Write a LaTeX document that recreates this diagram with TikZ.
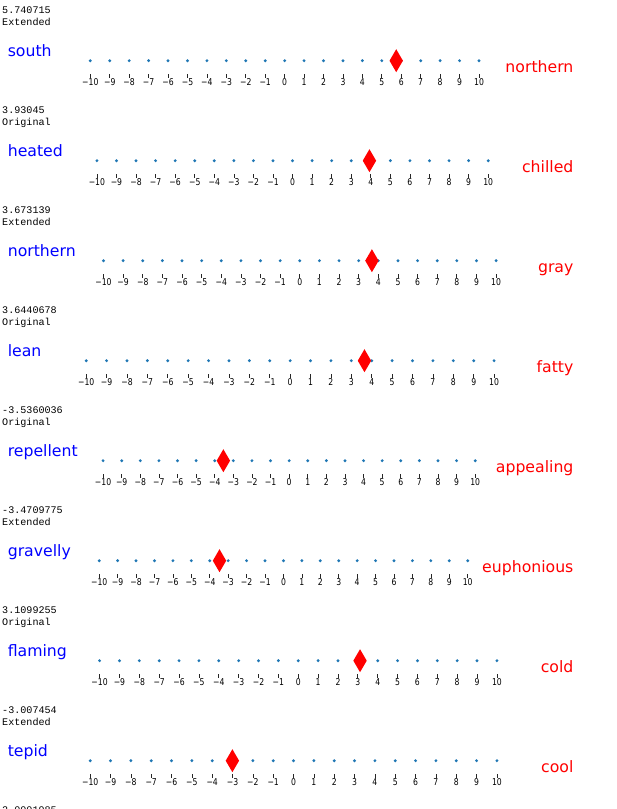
\documentclass[tikz,border=0pt]{standalone}
\usepackage{fontspec}
\setmainfont{DejaVu Sans}
\newfontfamily\tickfont[FakeStretch=0.82]{DejaVu Sans}
\newfontfamily\monofont{Liberation Mono}
\definecolor{dotblue}{HTML}{1F77B4}
\definecolor{wordblue}{HTML}{0000FF}
\definecolor{diared}{HTML}{FF0000}
\tikzset{
  hdr/.style={anchor=base west, inner sep=0pt, font=\monofont\fontsize{10.1}{12}\selectfont},
  leftw/.style={anchor=base west, inner sep=0pt, text=wordblue, font=\fontsize{15.7}{18}\selectfont},
  rightw/.style={anchor=base east, inner sep=0pt, text=diared, font=\fontsize{15.7}{18}\selectfont},
  ticklab/.style={anchor=base, inner sep=0pt, text=black, font=\tickfont\fontsize{9.4}{11}\selectfont},
  tickmark/.style={draw=black!85, line width=0.7pt},
}
\begin{document}
\begin{tikzpicture}[x=1pt,y=-1pt]
\useasboundingbox (0,0) rectangle (617,809);
\clip (0,0) rectangle (617,809);
\fill[white] (0,0) rectangle (617,809);
\foreach \i/\val/\typ/\lword/\rword/\xa/\xb in {
  0/5.740715/Extended/south/northern/90.3/479,
  1/3.93045/Original/heated/chilled/96.9/488.2,
  2/3.673139/Extended/northern/gray/103.5/496.1,
  3/3.6440678/Original/lean/fatty/86.2/494.1,
  4/-3.5360036/Original/repellent/appealing/103.1/475.2,
  5/-3.4709775/Extended/gravelly/euphonious/99.2/467.7,
  6/3.1099255/Original/flaming/cold/99.6/496.9,
  7/-3.007454/Extended/tepid/cool/90.2/496.9}{
  \pgfmathsetmacro\yo{100*\i}
  \pgfmathsetmacro\spc{(\xb-\xa)/20}
  \node[hdr] (h\i) at (2,\yo+13.3) {\val};
  \node[hdr] (t\i) at (2,\yo+25.8) {\typ};
  \node[leftw] (l\i) at (7.6,\yo+56.7) {\lword};
  \node[rightw] (r\i) at (573.6,\yo+72.7) {\rword};
  \foreach \k in {-10,...,10}{
    \pgfmathsetmacro\xx{\xa+(\k+10)*\spc}
    \fill[dotblue] (\xx,\yo+60.7) circle[radius=1.6];
    \draw[tickmark] (\xx,\yo+74) -- (\xx,\yo+77.5);
    \node[ticklab] (n\i\k) at (\xx,\yo+85.7) {\ifnum\k<0 −\number-\k\else\k\fi};
  }
  \pgfmathsetmacro\xd{\xa+(\val+10)*\spc}
  \fill[diared] (\xd,\yo+49.2) -- (\xd+6.7,\yo+60.7) -- (\xd,\yo+72.2) -- (\xd-6.7,\yo+60.7) -- cycle;
}
\node[hdr] (h8) at (2,813.3) {2.0001985};
\end{tikzpicture}
\end{document}
